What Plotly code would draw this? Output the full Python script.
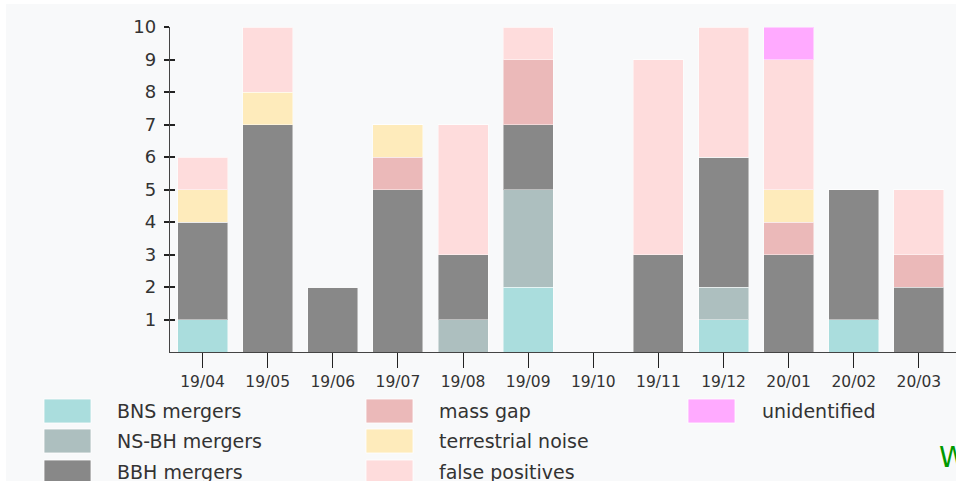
import plotly.graph_objects as go

months = ["19/04", "19/05", "19/06", "19/07", "19/08", "19/09",
          "19/10", "19/11", "19/12", "20/01", "20/02", "20/03"]

bns_mergers       = [1, 0, 0, 0, 0, 2, 0, 0, 1, 0, 1, 0]
nsbh_mergers      = [0, 0, 0, 0, 1, 3, 0, 0, 1, 0, 0, 0]
bbh_mergers       = [3, 7, 2, 5, 2, 2, 0, 3, 4, 3, 4, 2]
mass_gap          = [0, 0, 0, 1, 0, 2, 0, 0, 0, 1, 0, 1]
terrestrial_noise = [1, 1, 0, 1, 0, 0, 0, 0, 0, 1, 0, 0]
false_positives   = [1, 2, 0, 0, 4, 1, 0, 6, 4, 4, 0, 2]
unidentified      = [0, 0, 0, 0, 0, 0, 0, 0, 0, 1, 0, 0]

series_names = ["BNS mergers", "NS-BH mergers", "BBH mergers", "mass gap",
                "terrestrial noise", "false positives", "unidentified"]
series_values = [bns_mergers, nsbh_mergers, bbh_mergers, mass_gap,
                 terrestrial_noise, false_positives, unidentified]
series_colors = ["#aadddd", "#adbfbf", "#888888", "#ebb9b9",
                 "#feebbb", "#fedcdc", "#ffaaff"]

y_ticks = [1, 2, 3, 4, 5, 6, 7, 8, 9, 10]

W, H = 956, 481
ML, MR, MT, MB = 170, 0, 27, 129
PW, PH = W - ML - MR, H - MT - MB
BG = "#f8f9fa"
TXT = "#333333"
FONT = "DejaVu Sans"


def px(x):
    return (x - ML) / PW


def py(y):
    return (H - MB - y) / PH


fig = go.Figure()
for name, vals, col in zip(series_names, series_values, series_colors):
    fig.add_trace(go.Bar(
        x=months, y=vals, name=name,
        marker=dict(color=col, line=dict(color="rgba(255,255,255,0.45)", width=1)),
        showlegend=False,
    ))

shapes = [dict(type="rect", xref="paper", yref="paper",
               x0=px(6), x1=px(W + 2), y0=py(H + 2), y1=py(4),
               fillcolor=BG, line=dict(width=0), layer="below")]
annotations = []

# custom legend, column-major: 3 rows
col_sw_x = [44, 366, 688]
col_tx_x = [117, 439, 762]
row_y = [411, 441, 472]
for i, (name, col) in enumerate(zip(series_names, series_colors)):
    c, r = divmod(i, 3)
    sx = col_sw_x[c]
    cy = row_y[r]
    shapes.append(dict(type="rect", xref="paper", yref="paper",
                       x0=px(sx), x1=px(sx + 47), y0=py(cy + 12), y1=py(cy - 12),
                       fillcolor=col, line=dict(color="rgba(255,255,255,0.8)", width=1),
                       layer="above"))
    annotations.append(dict(xref="paper", yref="paper", x=px(col_tx_x[c] - 2), y=py(cy),
                            text=name, showarrow=False, xanchor="left", yanchor="middle",
                            font=dict(family=FONT, size=19, color=TXT)))

annotations.append(dict(xref="paper", yref="paper", x=px(937), y=py(457),
                        text="W", showarrow=False, xanchor="left", yanchor="middle",
                        font=dict(family=FONT, size=28, color="#009900")))

fig.update_layout(
    width=W, height=H,
    margin=dict(l=ML, r=MR, t=MT, b=MB, pad=0),
    barmode="stack", bargap=0.232,
    paper_bgcolor="white", plot_bgcolor=BG,
    font=dict(family=FONT, color=TXT),
    shapes=shapes, annotations=annotations,
    showlegend=False,
    xaxis=dict(type="category", categoryorder="array", categoryarray=months,
               range=[-0.5, 11.57], showgrid=False, zeroline=False,
               showline=True, linecolor="#444444", linewidth=1.3,
               ticks="outside", ticklen=15, tickwidth=1.3, tickcolor="#222222",
               tickfont=dict(family=FONT, size=15.5, color=TXT)),
    yaxis=dict(range=[0, 10], tickvals=y_ticks, showgrid=False, zeroline=False,
               showline=True, linecolor="#444444", linewidth=1.3,
               ticks="outside", ticklen=5, tickwidth=1.6, tickcolor="#222222",
               ticklabelstandoff=4,
               tickfont=dict(family=FONT, size=18, color=TXT)),
    yaxis2=dict(range=[0, 10], tickvals=y_ticks, overlaying="y", anchor="x",
                side="left", showgrid=False, zeroline=False, showline=False,
                ticks="inside", ticklen=5, tickwidth=1.6, tickcolor="#222222",
                showticklabels=False),
)
fig.add_trace(go.Scatter(x=[months[0]], y=[None], yaxis="y2", showlegend=False,
                         hoverinfo="skip"))

fig.write_html("out.html", config={"displayModeBar": False},
               post_script="document.body.style.margin='0';document.body.style.padding='0';document.body.style.overflow='hidden';")
